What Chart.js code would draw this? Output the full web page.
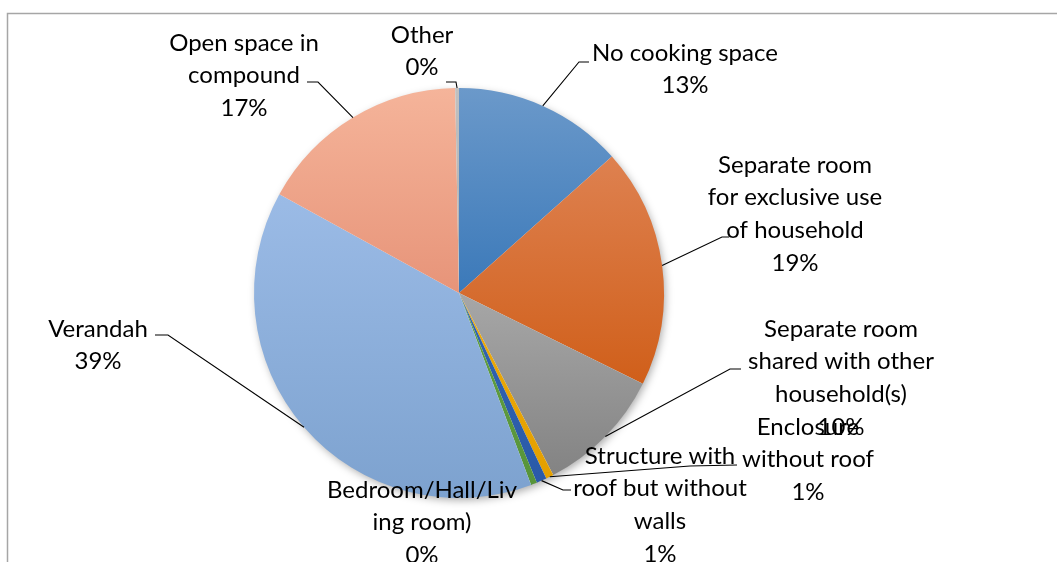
<!DOCTYPE html>
<html>
<head>
<meta charset="utf-8">
<script src="https://cdn.jsdelivr.net/npm/chart.js@4/dist/chart.umd.min.js"></script>
<style>
html,body{margin:0;padding:0;background:#fff;}
#wrap{position:relative;width:1057px;height:562px;}
</style>
</head>
<body>
<div id="wrap"><canvas id="c" width="1057" height="562"></canvas></div>
<script>
// ---- data ----
const categories = [
  'No cooking space',
  'Separate room for exclusive use of household',
  'Separate room shared with other household(s)',
  'Enclosure without roof',
  'Structure with roof but without walls',
  'Bedroom/Hall/Living room)',
  'Verandah',
  'Open space in compound',
  'Other'
];
const values = [13.4, 18.9, 10.1, 0.6, 0.8, 0.48, 38.72, 16.7, 0.3];
const labelLines = [
  ['No cooking space'],
  ['Separate room', 'for exclusive use', 'of household'],
  ['Separate room', 'shared with other', 'household(s)'],
  ['Enclosure', 'without roof'],
  ['Structure with', 'roof but without', 'walls'],
  ['Bedroom/Hall/Liv', 'ing room)'],
  ['Verandah'],
  ['Open space in', 'compound'],
  ['Other']
];

// ---- styles / layout ----
const sliceColors = [
  ['#6b99ca', '#3b79b9'],
  ['#de8150', '#d05f1a'],
  ['#a7a7a7', '#838383'],
  ['#eeaa0a', '#e4a000'],
  ['#3264b2', '#2a5aa8'],
  ['#63a043', '#57943a'],
  ['#9bbbe6', '#7da2cf'],
  ['#f5b49a', '#e79479'],
  ['#c0c0c0', '#b0b0b0']
];
// label centre x, first line y, leader elbow and end (null = no leader)
const labelLayout = [
  {cx: 685, y: 53,  elbow: [579, 62],  end: [589, 62]},
  {cx: 795, y: 165, elbow: [722, 237], end: [729, 237]},
  {cx: 841, y: 329, elbow: [730, 369], end: [741, 369]},
  {cx: 808, y: 427, elbow: [690, 466], end: [737, 465]},
  {cx: 660, y: 456, elbow: [563, 490], end: [571, 490]},
  {cx: 422, y: 490, elbow: null, end: null},
  {cx: 98,  y: 329, elbow: [168, 335], end: [155, 335]},
  {cx: 244, y: 43,  elbow: [318, 82],  end: [307, 82]},
  {cx: 422, y: 35,  elbow: [456, 82],  end: [446, 82]}
];
const FONT = '24px Lato, "Open Sans", sans-serif';
const LINE_H = 32.6;

const total = values.reduce((a, b) => a + b, 0);

function pieGeom(chart) {
  const ca = chart.chartArea;
  const cx = (ca.left + ca.right) / 2, cy = (ca.top + ca.bottom) / 2;
  const r = Math.min(ca.right - ca.left, ca.bottom - ca.top) / 2;
  return {cx, cy, r};
}

function sliceYRange(chart, i) {
  const g = pieGeom(chart);
  let cum = 0;
  for (let k = 0; k < i; k++) cum += values[k];
  const a0 = cum / total * 2 * Math.PI - Math.PI / 2;
  const a1 = (cum + values[i]) / total * 2 * Math.PI - Math.PI / 2;
  let ymin = g.cy, ymax = g.cy;
  const n = 60;
  for (let s = 0; s <= n; s++) {
    const a = a0 + (a1 - a0) * s / n;
    const y = g.cy + g.r * Math.sin(a);
    ymin = Math.min(ymin, y); ymax = Math.max(ymax, y);
  }
  return [ymin, ymax];
}

const shadowPlugin = {
  id: 'pieShadow',
  beforeDatasetsDraw(chart) {
    const g = pieGeom(chart);
    const ctx = chart.ctx;
    ctx.save();
    ctx.shadowColor = 'rgba(0,0,0,0.35)';
    ctx.shadowBlur = 9;
    ctx.shadowOffsetX = 2;
    ctx.shadowOffsetY = 3;
    ctx.beginPath();
    ctx.arc(g.cx, g.cy, g.r - 1, 0, Math.PI * 2);
    ctx.fillStyle = '#ffffff';
    ctx.fill();
    ctx.restore();
  }
};

const framePlugin = {
  id: 'frame',
  beforeDraw(chart) {
    const ctx = chart.ctx;
    ctx.save();
    ctx.fillStyle = '#fff';
    ctx.fillRect(0, 0, chart.width, chart.height);
    ctx.strokeStyle = '#a6a6a6';
    ctx.lineWidth = 1.5;
    ctx.beginPath();
    ctx.moveTo(7.5, chart.height + 5);
    ctx.lineTo(7.5, 13.5);
    ctx.lineTo(chart.width + 5, 13.5);
    ctx.stroke();
    ctx.restore();
  }
};

const labelPlugin = {
  id: 'sliceLabels',
  afterDatasetsDraw(chart) {
    const ctx = chart.ctx;
    const meta = chart.getDatasetMeta(0);
    ctx.save();
    // leaders
    ctx.strokeStyle = '#000';
    ctx.lineWidth = 1.1;
    meta.data.forEach((arc, i) => {
      const L = labelLayout[i];
      if (!L.elbow) return;
      const p = arc.getProps(['x', 'y', 'startAngle', 'endAngle', 'outerRadius'], true);
      const mid = (p.startAngle + p.endAngle) / 2;
      const sx = p.x + Math.cos(mid) * p.outerRadius;
      const sy = p.y + Math.sin(mid) * p.outerRadius;
      ctx.beginPath();
      ctx.moveTo(sx, sy);
      ctx.lineTo(L.elbow[0], L.elbow[1]);
      ctx.lineTo(L.end[0], L.end[1]);
      ctx.stroke();
    });
    // texts
    ctx.font = FONT;
    ctx.fillStyle = '#000';
    ctx.textAlign = 'center';
    ctx.textBaseline = 'middle';
    values.forEach((v, i) => {
      const L = labelLayout[i];
      const lines = labelLines[i].concat([Math.round(v / total * 100) + '%']);
      lines.forEach((t, k) => ctx.fillText(t, L.cx, L.y + k * LINE_H));
    });
    ctx.restore();
  }
};

new Chart(document.getElementById('c'), {
  type: 'pie',
  data: {
    labels: categories,
    datasets: [{
      data: values,
      borderWidth: 0,
      backgroundColor: (c) => {
        const i = c.dataIndex;
        const chart = c.chart;
        if (i === undefined || !chart.chartArea) return sliceColors[i || 0][0];
        const [y0, y1] = sliceYRange(chart, i);
        const g = chart.ctx.createLinearGradient(0, y0, 0, y1 + 0.01);
        g.addColorStop(0, sliceColors[i][0]);
        g.addColorStop(1, sliceColors[i][1]);
        return g;
      }
    }]
  },
  options: {
    responsive: false,
    animation: false,
    layout: {padding: {top: 88, bottom: 64, left: 100, right: 239}},
    plugins: {
      legend: {display: false},
      tooltip: {enabled: false}
    }
  },
  plugins: [framePlugin, shadowPlugin, labelPlugin]
});
</script>
</body>
</html>
